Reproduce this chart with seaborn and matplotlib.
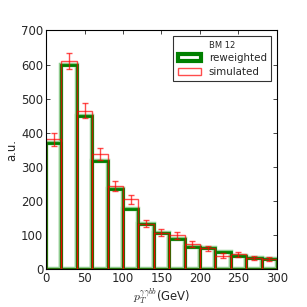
import numpy as np
import pandas as pd
import matplotlib
matplotlib.use("Agg")
import matplotlib.pyplot as plt
import seaborn as sns
from matplotlib.patches import Patch

bin_edges = [0, 20, 40, 60, 80, 100, 120, 140, 160, 180, 200, 220, 240, 260, 280, 300]
reweighted = [371, 600, 448, 316, 234, 177, 133, 105, 89, 66, 62, 50, 39, 32, 29]
simulated = [381, 610, 465, 337, 243, 205, 134, 107, 99, 73, 61, 40, 44, 32, 30]
sim_err = [19, 24, 21, 18, 15, 14, 11, 10, 10, 9, 8, 7, 7, 6, 6]

sns.set_style("ticks")
plt.rcParams["mathtext.fontset"] = "cm"
plt.rcParams["font.family"] = ["DejaVu Sans"]

edges = np.array(bin_edges)
centers = (edges[:-1] + edges[1:]) / 2
df = pd.DataFrame({"pt": centers, "rew": reweighted, "sim": simulated, "err": sim_err})

fig = plt.figure(figsize=(3.07, 3.07), dpi=100)
ax = fig.add_axes([0.150, 0.123, 0.752, 0.778])

# light fringe + dark core for the reweighted outline
sns.histplot(data=df, x="pt", weights="rew", bins=bin_edges, element="bars",
             fill=True, color="white", edgecolor="#8fcc8f", linewidth=3.2, alpha=1.0, ax=ax)
sns.histplot(data=df, x="pt", weights="rew", bins=bin_edges, element="bars",
             fill=False, edgecolor="green", color="green", linewidth=2.0, alpha=1.0, ax=ax)
sns.histplot(data=df, x="pt", weights="sim", bins=bin_edges, element="bars",
             fill=False, edgecolor="red", color="red", linewidth=1.0, alpha=0.7, ax=ax)
ax.errorbar(df["pt"], df["sim"], yerr=df["err"], fmt="none", ecolor="red",
            alpha=0.7, elinewidth=1.0, capsize=2.5, capthick=1.0)

ax.set_xlim(0, 300)
ax.set_ylim(0, 700)
ax.set_xticks([0, 50, 100, 150, 200, 250, 300])
ax.set_yticks([0, 100, 200, 300, 400, 500, 600, 700])
ax.tick_params(direction="in", top=True, right=True, labelsize=8.4, length=3, width=0.6, pad=2)
for s in ax.spines.values():
    s.set_linewidth(0.8)
    s.set_color("black")
ax.set_xlabel(r"$p_T^{\gamma\gamma bb}$(GeV)", fontsize=8.4, labelpad=1)
ax.set_ylabel("a.u.", fontsize=8.4, labelpad=2)

handles = [Patch(facecolor="white", edgecolor="green", linewidth=3.0, label="reweighted"),
           Patch(facecolor="white", edgecolor="red", linewidth=1.0, alpha=0.7, label="simulated")]
leg = ax.legend(handles=handles, title="BM 12", loc="upper right", fontsize=7.4,
                title_fontsize=6, frameon=True, fancybox=False, borderpad=0.45,
                handlelength=2.3, handletextpad=0.7, borderaxespad=0.55, labelspacing=0.35)
leg.get_frame().set_edgecolor("black")
leg.get_frame().set_linewidth(0.8)

fig.savefig("out.png", dpi=100)
